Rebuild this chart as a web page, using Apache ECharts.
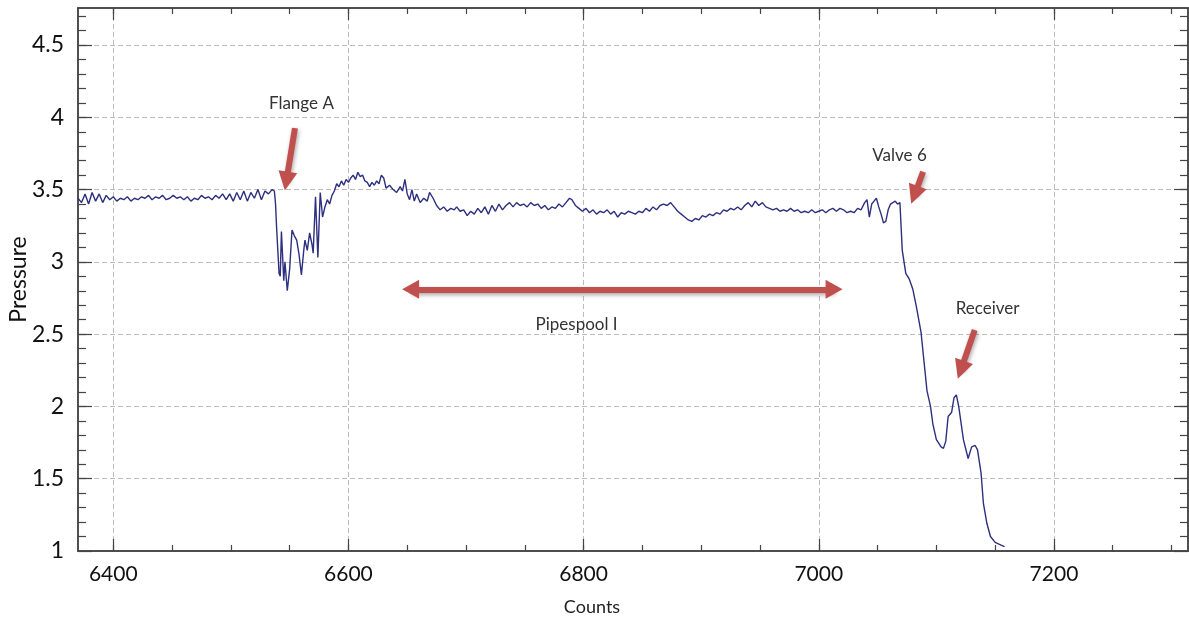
<!DOCTYPE html>
<html>
<head>
<meta charset="utf-8">
<script src="https://cdn.jsdelivr.net/npm/echarts@6/dist/echarts.min.js"></script>
<style>
  html, body { margin: 0; padding: 0; background: #ffffff; }
  #chart { width: 1189px; height: 620px; }
</style>
</head>
<body>
<div id="chart"></div>
<script>
// ---- data ----
const counts = [
  6370,6373,6376,6379,6382,6385,6388,6391,6394,6397,
  6400,6403,6406,6409,6412,6415,6418,6421,6424,6427,
  6430,6433,6436,6439,6442,6445,6448,6451,6454,6457,
  6460,6463,6466,6469,6472,6475,6478,6481,6484,6487,
  6490,6493,6496,6499,6502,6505,6508,6511,6514,6517,
  6520,6523,6526,6529,6532,6535,6537,
  6538,6539,6541,6542,6543,6545,6546,6548,6550,6552,
  6554,6556,6558,6560,6562,6563,6565,6567,6569,6570,
  6572,6574,6576,6578,6580,6582,6584,6586,6588,6590,
  6592,6594,6596,6598,6600,6602,6604,6606,6608,6610,
  6612,6614,6616,6618,6620,6622,6624,6626,6628,6630,
  6632,6635,6638,6641,6644,6646,6648,6650,6652,6654,
  6656,6658,6661,6664,6667,6669,6672,6675,6678,6681,
  6684,6687,6690,6692,6695,6698,6701,
  6704,6707,6710,6713,6716,6719,6722,6725,6728,6731,
  6734,6737,6740,6743,6746,6749,6752,6755,6758,6761,
  6764,6767,6770,6773,6776,6779,6782,6785,6788,6790,
  6793,6796,6799,6802,6805,6808,6811,6814,6817,6820,
  6823,6826,6829,6832,6835,6838,6841,6844,6847,6850,
  6853,6856,6859,6862,6865,6868,6871,6874,6877,6880,
  6883,6886,6889,6892,6895,6898,6901,6904,6907,6910,
  6913,6916,6919,6922,6925,6928,6931,6934,6937,6940,
  6943,6946,6949,6952,6955,6958,6961,6964,6967,6970,
  6973,6976,6979,6982,6985,6988,6991,6994,6997,7000,
  7003,7006,7009,7012,7015,7018,7021,7024,7027,7030,
  7033,7036,
  7039,7041,7043,7045,7047,7049,7051,7053,7055,7057,
  7059,7061,7063,7065,7067,7069,7071,7074,7077,7080,
  7083,7087,7090,7092,7095,7097,7100,7104,7106,7108,
  7110,7113,7115,7117,7119,7123,7127,7130,7133,7135,
  7138,7140,7143,7146,7150,7155,7158
];
const pressure = [
  3.44,3.41,3.47,3.40,3.48,3.42,3.47,3.41,3.46,3.43,
  3.45,3.42,3.44,3.43,3.45,3.42,3.44,3.43,3.45,3.44,
  3.46,3.43,3.45,3.44,3.46,3.43,3.44,3.46,3.44,3.45,
  3.43,3.45,3.42,3.44,3.43,3.46,3.44,3.45,3.43,3.46,
  3.44,3.47,3.43,3.47,3.42,3.48,3.43,3.49,3.42,3.48,
  3.44,3.50,3.43,3.49,3.47,3.50,3.49,
  3.40,3.22,2.92,2.90,3.21,2.87,3.00,2.80,2.95,3.22,
  3.18,3.15,3.05,2.91,3.08,3.15,3.08,3.20,3.12,3.06,
  3.45,3.03,3.48,3.31,3.38,3.43,3.40,3.46,3.49,3.54,
  3.52,3.56,3.53,3.57,3.55,3.58,3.60,3.57,3.62,3.59,
  3.60,3.56,3.55,3.52,3.55,3.53,3.56,3.54,3.60,3.58,
  3.51,3.53,3.50,3.48,3.52,3.49,3.57,3.47,3.43,3.50,
  3.42,3.47,3.41,3.44,3.42,3.48,3.44,3.39,3.36,3.38,
  3.35,3.37,3.36,3.38,3.35,3.36,3.32,
  3.35,3.33,3.37,3.34,3.38,3.33,3.39,3.35,3.40,3.36,
  3.39,3.41,3.38,3.41,3.39,3.40,3.38,3.41,3.39,3.40,
  3.37,3.39,3.36,3.38,3.37,3.40,3.38,3.41,3.44,3.43,
  3.39,3.37,3.35,3.37,3.34,3.36,3.33,3.35,3.34,3.36,
  3.33,3.35,3.31,3.34,3.33,3.35,3.34,3.33,3.35,3.34,
  3.37,3.35,3.38,3.36,3.39,3.40,3.39,3.41,3.38,3.35,
  3.33,3.31,3.29,3.28,3.30,3.29,3.32,3.31,3.33,3.32,
  3.34,3.33,3.36,3.35,3.37,3.36,3.38,3.36,3.39,3.41,
  3.38,3.42,3.39,3.41,3.38,3.37,3.36,3.37,3.35,3.36,
  3.35,3.37,3.35,3.36,3.34,3.35,3.34,3.36,3.34,3.35,
  3.36,3.34,3.36,3.37,3.35,3.37,3.36,3.34,3.35,3.34,
  3.37,3.36,
  3.41,3.43,3.31,3.40,3.42,3.44,3.38,3.33,3.27,3.28,
  3.36,3.40,3.41,3.42,3.40,3.41,3.08,2.92,2.88,2.81,
  2.69,2.51,2.27,2.11,2.00,1.88,1.77,1.72,1.71,1.76,
  1.93,1.96,2.06,2.08,2.00,1.77,1.64,1.72,1.73,1.70,
  1.54,1.33,1.19,1.10,1.06,1.04,1.03
];

// axis ticks
const xMajorTicks = [6400, 6600, 6800, 7000, 7200];
const xMinorTicks = [6400,6450,6500,6550,6600,6650,6700,6750,6800,6850,6900,6950,7000,7050,7100,7150,7200,7250,7300];
const yMajorTicks = [1, 1.5, 2, 2.5, 3, 3.5, 4, 4.5];
const yMinorTicks = [1.1,1.2,1.3,1.4,1.5,1.6,1.7,1.8,1.9,2,2.1,2.2,2.3,2.4,2.5,2.6,2.7,2.8,2.9,3,3.1,3.2,3.3,3.4,3.5,3.6,3.7,3.8,3.9,4,4.1,4.2,4.3,4.4,4.5,4.6,4.7];

// annotations (data coordinates)
const annotationLabels = ['Flange A', 'Valve 6', 'Receiver', 'Pipespool I'];
const annotationPoints = [[6560, 4.098], [7068.7, 3.739], [7143.6, 2.68], [6794, 2.57]];
const arrowTails = [[6554.5, 3.925], [7088.7, 3.623], [7132.6, 2.528]];
const arrowHeads = [[6547.2, 3.558], [7081.4, 3.463], [7120.9, 2.253]];
const spanArrow = [[6652.9, 2.81], [7013.0, 2.81]];

const X_MIN = 6370, X_MAX = 7314, Y_MIN = 1, Y_MAX = 4.756;
const FONT = 'Lato';
const AXIS_COLOR = '#444';
const ARROW_COLOR = '#c0504d';

const lineData = counts.map((c, i) => [c, pressure[i]]);

function xAxisDef(pos, ticks, len, withLabels, withSplit) {
  return {
    type: 'value', position: pos, min: X_MIN, max: X_MAX,
    axisLine: { show: true, onZero: false, lineStyle: { color: AXIS_COLOR, width: 1.5 } },
    axisTick: { show: true, inside: true, length: len, customValues: ticks, lineStyle: { color: AXIS_COLOR, width: 1.2 } },
    axisLabel: withLabels ? { show: true, customValues: ticks, fontSize: 21, margin: 13, color: '#111', fontFamily: FONT,
                              formatter: v => String(v) } : { show: false },
    splitLine: withSplit ? { show: true, lineStyle: { color: '#bbbbbb', type: [5, 3], width: 1 } } : { show: false }
  };
}
function yAxisDef(pos, ticks, len, withLabels, withSplit) {
  return {
    type: 'value', position: pos, min: Y_MIN, max: Y_MAX,
    axisLine: { show: true, onZero: false, lineStyle: { color: AXIS_COLOR, width: 1.5 } },
    axisTick: { show: true, inside: true, length: len, customValues: ticks, lineStyle: { color: AXIS_COLOR, width: 1.2 } },
    axisLabel: withLabels ? { show: true, customValues: ticks, fontSize: 23, margin: 14, color: '#111', fontFamily: FONT,
                              formatter: v => String(v) } : { show: false },
    splitLine: withSplit ? { show: true, lineStyle: { color: '#bbbbbb', type: [5, 3], width: 1 } } : { show: false }
  };
}

const xAxes = [
  Object.assign(xAxisDef('bottom', xMajorTicks, 12, true, true), {
    name: 'Counts', nameLocation: 'middle', nameGap: 47, nameMoveOverlap: false,
    nameTextStyle: { fontSize: 18, color: '#222', fontFamily: FONT, padding: [0, 82, 0, 0] }
  }),
  xAxisDef('bottom', xMinorTicks, 6, false, false),
  xAxisDef('top', xMajorTicks, 12, false, false),
  xAxisDef('top', xMinorTicks, 6, false, false)
];
const yAxes = [
  Object.assign(yAxisDef('left', yMajorTicks, 14, true, true), {
    name: 'Pressure', nameLocation: 'middle', nameGap: 48, nameMoveOverlap: false,
    nameTextStyle: { fontSize: 23, color: '#111', fontFamily: FONT }
  }),
  yAxisDef('left', yMinorTicks, 8, false, false),
  yAxisDef('right', yMajorTicks, 14, false, false),
  yAxisDef('right', yMinorTicks, 8, false, false)
];

const arrowLineStyle = {
  color: ARROW_COLOR, width: 6, type: 'solid',
  shadowColor: 'rgba(0,0,0,0.35)', shadowBlur: 4, shadowOffsetX: 1, shadowOffsetY: 2
};
const markLineData = arrowTails.map((t, i) => [
  { coord: t, symbol: 'none' },
  { coord: arrowHeads[i], symbol: 'triangle', symbolSize: [19, 19] }
]);
markLineData.push([
  { coord: spanArrow[0], symbol: 'triangle', symbolSize: [19, 17] },
  { coord: spanArrow[1], symbol: 'triangle', symbolSize: [19, 17] }
]);

const chart = echarts.init(document.getElementById('chart'), null, { renderer: 'canvas' });
chart.setOption({
  animation: false,
  backgroundColor: '#ffffff',
  textStyle: { fontFamily: FONT },
  grid: { left: 78, right: 1, top: 8, bottom: 69, containLabel: false, outerBoundsMode: 'none' },
  xAxis: xAxes,
  yAxis: yAxes,
  series: [{
    type: 'line',
    xAxisIndex: 0, yAxisIndex: 0,
    data: lineData,
    showSymbol: false,
    symbol: 'none',
    lineStyle: { color: '#2d2f7f', width: 1.4 },
    z: 3,
    markLine: {
      silent: true,
      animation: false,
      symbol: ['none', 'triangle'],
      symbolSize: 18,
      label: { show: false },
      lineStyle: arrowLineStyle,
      itemStyle: { color: ARROW_COLOR },
      emphasis: { disabled: true },
      data: markLineData
    },
    markPoint: {
      silent: true,
      animation: false,
      symbol: 'circle',
      symbolSize: 0,
      label: {
        show: true, position: 'inside', formatter: '{b}',
        fontSize: 17, color: '#333', fontFamily: FONT
      },
      data: annotationLabels.map((n, i) => ({ name: n, coord: annotationPoints[i] }))
    }
  }]
});
</script>
</body>
</html>
